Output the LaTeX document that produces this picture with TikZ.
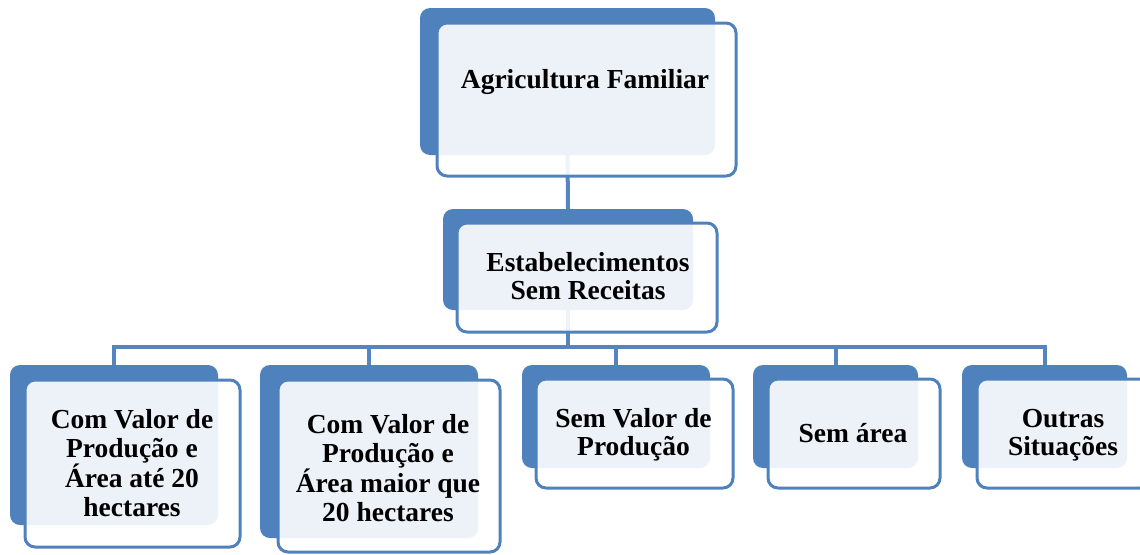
\documentclass[tikz,border=0pt]{standalone}
\usepackage{fontspec}
\setmainfont{Liberation Serif}
\definecolor{bblue}{HTML}{4F81BD}
\definecolor{lblue}{HTML}{5585C0}
\tikzset{
  backbox/.style={rectangle, rounded corners=10pt, fill=bblue, draw=none, inner sep=0pt},
  frontbox/.style={rectangle, rounded corners=10pt, fill=white, fill opacity=0.9, text opacity=1, draw=bblue, line width=3pt, inner sep=0pt},
  conn/.style={draw=lblue, line width=4pt},
  label/.style={inner sep=0pt, align=center, text=black, font=\fontsize{27.5}{28.5}\selectfont\bfseries}
}
\begin{document}
\begin{tikzpicture}[x=1pt,y=-1pt]
\useasboundingbox (0,0) rectangle (1140,554);
% back boxes
\node[backbox, minimum width=295pt, minimum height=147pt] (topB) at (567.5,81.5) {};
\node[backbox, minimum width=250pt, minimum height=101pt] (n2B) at (568,259.5) {};
\node[backbox, minimum width=208pt, minimum height=160pt] (c1B) at (114,445) {};
\node[backbox, minimum width=218pt, minimum height=173pt] (c2B) at (369,451.5) {};
\node[backbox, minimum width=188pt, minimum height=103pt] (c3B) at (616,416.5) {};
\node[backbox, minimum width=165pt, minimum height=103pt] (c4B) at (835.5,416.5) {};
\node[backbox, minimum width=165pt, minimum height=103pt] (c5B) at (1044.5,416.5) {};
% connectors
\coordinate (bar) at (0,347);
\draw[conn] (topB.south) -- (n2B.north);
\draw[conn] (n2B.south) -- (n2B.south |- bar);
\draw[conn] (c1B.north) -- (c1B.north |- bar) -- (c5B.north |- bar) -- (c5B.north);
\draw[conn] (c2B.north) -- (c2B.north |- bar);
\draw[conn] (c3B.north) -- (c3B.north |- bar);
\draw[conn] (c4B.north) -- (c4B.north |- bar);
% front boxes
\node[frontbox, minimum width=299pt, minimum height=153pt] (topF) at (586.5,99.5) {};
\node[frontbox, minimum width=260pt, minimum height=109pt] (n2F) at (587,277.5) {};
\node[frontbox, minimum width=215pt, minimum height=167pt] (c1F) at (132.5,463.5) {};
\node[frontbox, minimum width=222pt, minimum height=172pt] (c2F) at (389,466) {};
\node[frontbox, minimum width=197pt, minimum height=109pt] (c3F) at (634.5,433.5) {};
\node[frontbox, minimum width=172pt, minimum height=109pt] (c4F) at (854,433.5) {};
\node[frontbox, minimum width=173pt, minimum height=109pt] (c5F) at (1063.5,433.5) {};
% texts
\node[label, anchor=base] (t1) at (585,88) {Agricultura Familiar};
\node[label] (t2) at (588,276) {Estabelecimentos\\Sem Receitas};
\node[label] (tc1) at (132,463) {Com Valor de\\Produção e\\Área até 20\\hectares};
\node[label] (tc2) at (388,468) {Com Valor de\\Produção e\\Área maior que\\20 hectares};
\node[label] (tc3) at (633.5,435) {Sem Valor de\\Produção};
\node[label, anchor=base] (tc4) at (853,442) {Sem área};
\node[label] (tc5) at (1063,435) {Outras\\Situações};
\end{tikzpicture}
\end{document}
